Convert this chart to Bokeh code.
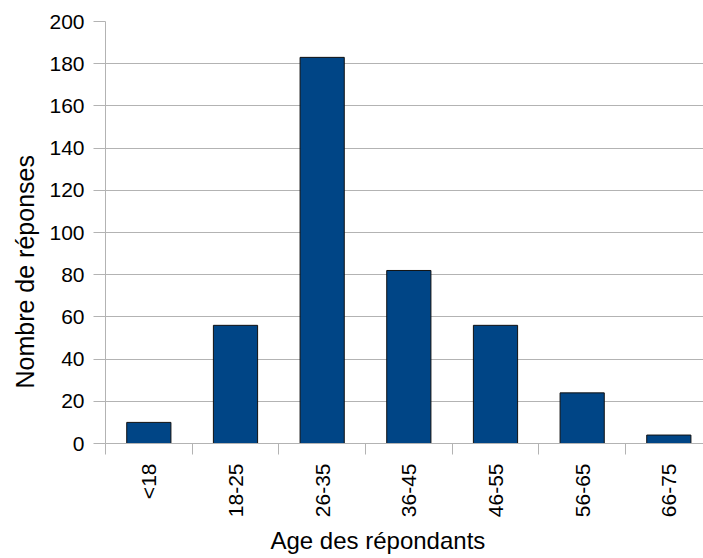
import math
from bokeh.plotting import figure
from bokeh.models import Range1d, FixedTicker, Title
from bokeh.embed import file_html
from bokeh.resources import INLINE

categories = ["<18", "18-25", "26-35", "36-45", "46-55", "56-65", "66-75"]
responses = [10, 56, 183, 82, 56, 24, 4]
y_ticks = [0, 20, 40, 60, 80, 100, 120, 140, 160, 180, 200]

positions = list(range(len(categories)))
boundaries = [i - 0.5 for i in range(len(categories) + 1)]

FONT = "Liberation Sans"
GRAY = "#b3b3b3"

p = figure(width=703, height=558, output_backend="svg", toolbar_location=None,
           x_range=Range1d(-0.5, 6.4), y_range=Range1d(0, 200),
           min_border_left=105, min_border_right=0, min_border_top=21, min_border_bottom=115)
p.outline_line_color = None
p.background_fill_color = "white"
p.border_fill_color = "white"

p.vbar(x=positions, top=responses, width=0.51, fill_color="#004586", line_color="#111111", line_width=1)

# y axis
p.yaxis.ticker = FixedTicker(ticks=y_ticks)
p.yaxis.axis_line_color = GRAY
p.yaxis.major_tick_line_color = GRAY
p.yaxis.major_tick_out = 12
p.yaxis.major_tick_in = 0
p.yaxis.minor_tick_line_color = None
p.yaxis.major_label_standoff = 9
p.yaxis.major_label_text_font = FONT
p.yaxis.major_label_text_font_size = "21px"
p.yaxis.major_label_text_color = "black"

# x axis
p.xaxis.ticker = FixedTicker(ticks=positions, minor_ticks=boundaries)
p.xaxis.major_label_overrides = {i: c for i, c in zip(positions, categories)}
p.xaxis.axis_line_color = GRAY
p.xaxis.major_tick_line_color = None
p.xaxis.major_tick_out = 11
p.xaxis.major_tick_in = 0
p.xaxis.minor_tick_line_color = GRAY
p.xaxis.minor_tick_out = 11
p.xaxis.minor_tick_in = 0
p.xaxis.major_label_standoff = 9
p.xaxis.major_label_orientation = math.pi / 2
p.xaxis.major_label_text_font = FONT
p.xaxis.major_label_text_font_size = "21px"
p.xaxis.major_label_text_color = "black"

p.xgrid.grid_line_color = None
p.ygrid.grid_line_color = GRAY
p.ygrid.ticker = FixedTicker(ticks=y_ticks)

p.add_layout(Title(text="Age des répondants", align="left", offset=165, vertical_align="bottom",
                   standoff=8, text_font=FONT, text_font_size="24px", text_font_style="normal",
                   text_color="black"), "below")
p.add_layout(Title(text="Nombre de réponses", align="left", offset=55, vertical_align="bottom",
                   standoff=16, text_font=FONT, text_font_size="25px", text_font_style="normal",
                   text_color="black"), "left")

open("out.html", "w").write(file_html(p, INLINE))
